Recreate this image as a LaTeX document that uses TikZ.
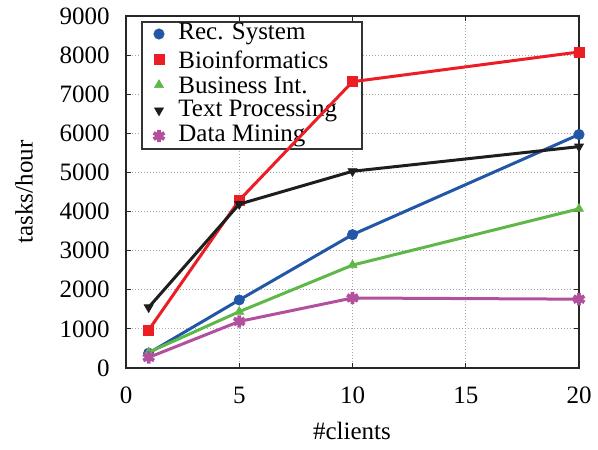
\documentclass[tikz,border=0pt]{standalone}
\usepackage{fontspec}
\setmainfont{Liberation Serif}
\usetikzlibrary{plotmarks}
\definecolor{recblue}{RGB}{34,86,166}
\definecolor{biored}{RGB}{236,29,36}
\definecolor{busgreen}{RGB}{94,184,72}
\definecolor{txtblack}{RGB}{30,30,30}
\definecolor{dmmag}{RGB}{178,80,158}
\tikzset{
  gridline/.style={gray!70, line width=0.5pt, dash pattern=on 0.6pt off 0.9pt},
  axisline/.style={black!85, line width=0.7pt},
  tickline/.style={black!85, line width=0.5pt},
  series/.style={line width=1.5pt},
  recs/.style={series, color=recblue, mark=*, mark size=2.6pt, mark options={solid, line width=0.3pt}},
  bios/.style={series, color=biored, mark=square*, mark size=2.5pt, mark options={solid, line width=0.3pt}},
  buss/.style={series, color=busgreen, mark=triangle*, mark size=2.6pt, mark options={solid, line width=0.3pt}},
  txts/.style={series, color=txtblack, mark=triangle*, mark size=2.6pt, mark options={solid, rotate=180, line width=0.3pt}},
  dms/.style={series, color=dmmag, mark=asterisk, mark size=3.1pt, mark options={solid, line width=1.9pt}},
  lbl/.style={inner sep=0pt},
}
\begin{document}
\begin{tikzpicture}[x=0.5pt,y=0.5pt,font=\fontsize{12.5}{15}\selectfont]
\useasboundingbox (0,0) rectangle (598,449);
\begin{scope}[shift={(63pt,40.5pt)},x=11.325pt,y=19.555pt]
  \foreach \i in {5,10,15} \draw[gridline] (\i,0) -- (\i,9);
  \foreach \j in {1,...,8} \draw[gridline] (0,\j) -- (20,\j);
  \foreach \i in {5,10,15} {\draw[tickline] (\i,0) -- ++(0,2.5pt); \draw[tickline] (\i,9) -- ++(0,-2.5pt);}
  \foreach \j in {1,...,8} {\draw[tickline] (0,\j) -- ++(2.5pt,0); \draw[tickline] (20,\j) -- ++(-2.5pt,0);}
  \draw[axisline] (0,0) rectangle (20,9);
  \foreach \i in {0,5,10,15,20} \node[lbl] (xl\i) at ([yshift=-13.5pt]\i,0) {\i};
  \node[lbl, anchor=east] (yl0) at ([xshift=-8pt]0,0) {0};
  \foreach \j in {1,...,9} \node[lbl, anchor=east] (yl\j) at ([xshift=-8pt]0,\j) {\j000};
\end{scope}
% legend (drawn under the data)
\draw[fill=white, draw=black!80, line width=0.6pt] (142,300) rectangle (362,427);
\path[recs] plot coordinates {(159,415)};
\path[bios] plot coordinates {(159,389.5)};
\path[buss] plot coordinates {(159,364)};
\path[txts] plot coordinates {(159,338.5)};
\path[dms] plot coordinates {(159,313)};
\node[lbl, anchor=west] (lg1) at (178,415) {Rec. System};
\node[lbl, anchor=west] (lg2) at (178,389.5) {Bioinformatics};
\node[lbl, anchor=west] (lg3) at (178,364) {Business Int.};
\node[lbl, anchor=west] (lg4) at (178,338.5) {Text Processing};
\node[lbl, anchor=west] (lg5) at (178,313) {Data Mining};
\begin{scope}[shift={(63pt,40.5pt)},x=11.325pt,y=19.555pt]
  \draw[recs] plot coordinates {(1,0.38) (5,1.74) (10,3.41) (20,5.97)};
  \draw[bios] plot coordinates {(1,0.97) (5,4.29) (10,7.32) (20,8.08)};
  \draw[buss] plot coordinates {(1,0.40) (5,1.44) (10,2.63) (20,4.07)};
  \draw[txts] plot coordinates {(1,1.55) (5,4.19) (10,5.03) (20,5.66)};
  \draw[dms] plot coordinates {(1,0.27) (5,1.19) (10,1.79) (20,1.76)};
\end{scope}
% axis labels
\node[lbl, rotate=90] (ylab) at (24,257) {tasks/hour};
\node[lbl] (xlab) at (352,18) {\#clients};
\end{tikzpicture}
\end{document}
